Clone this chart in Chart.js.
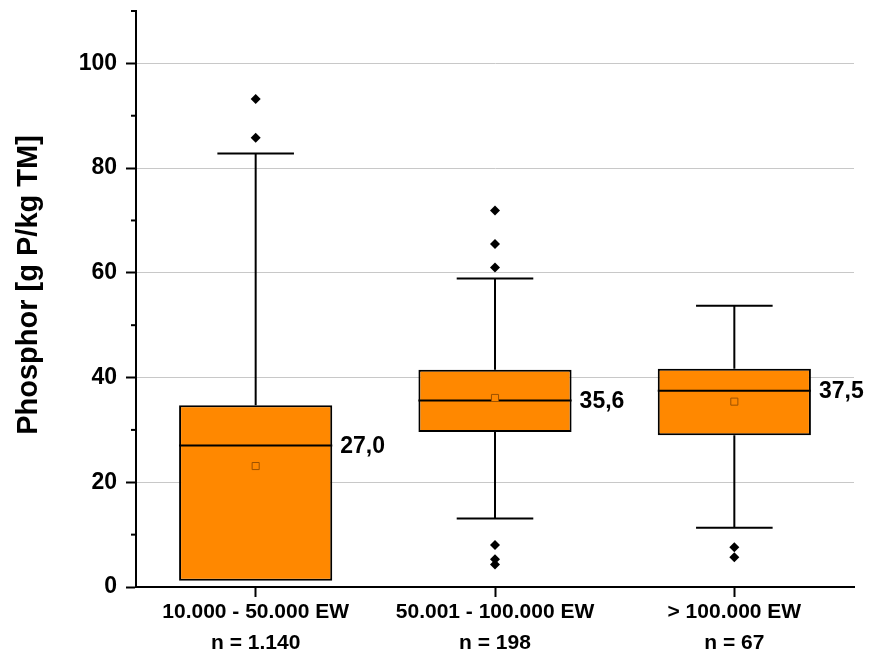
<!DOCTYPE html>
<html>
<head>
<meta charset="utf-8">
<script src="https://cdn.jsdelivr.net/npm/chart.js@4.4.1/dist/chart.umd.min.js"></script>
<style>
    html, body { margin: 0; padding: 0; background: #fff; }
    #wrap { width: 871px; height: 657px; position: relative; }
</style>
</head>
<body>
<div id="wrap"><canvas id="boxChart"></canvas></div>
<script>
// Kategorien (Ausbaugröße + Anzahl)
const categories = [
    ['10.000 - 50.000 EW', 'n = 1.140'],
    ['50.001 - 100.000 EW', 'n = 198'],
    ['> 100.000 EW', 'n = 67']
];

// Boxplot-Kennwerte, g P/kg TM
const q1 = [1.2, 29.6, 29.0];
const q3 = [34.7, 41.5, 41.7];
const medians = [27.0, 35.6, 37.5];
const means = [23.1, 36.1, 35.4];
const whiskerLow = [1.2, 13.1, 11.3];
const whiskerHigh = [82.8, 58.9, 53.7];
const outliers = [
    [93.2, 85.8],
    [71.9, 65.5, 61.0, 8.0, 5.3, 4.3],
    [7.6, 5.7]
];

// Achse
const yMin = 0;
const yMax = 110;
const yStep = 10;
const yLabelStep = 20;
const yTitle = 'Phosphor [g P/kg TM]';

const boxColor = '#ff8800';
const fontFamily = '"Liberation Sans", Arial, sans-serif';

// Whisker, Median, Nebenticks, Achsentitel und Medianbeschriftung
const boxPlugin = {
    id: 'boxExtras',
    beforeDatasetsDraw(chart) {
        const ctx = chart.ctx;
        const x = chart.scales.x;
        const y = chart.scales.y;
        const bars = chart.getDatasetMeta(0).data;
        ctx.save();
        ctx.strokeStyle = '#000';
        ctx.lineWidth = 2;
        categories.forEach((c, i) => {
            const cx = x.getPixelForValue(i);
            const half = bars[i].width / 4;
            // oberer Whisker
            ctx.beginPath();
            ctx.moveTo(cx, y.getPixelForValue(q3[i]));
            ctx.lineTo(cx, y.getPixelForValue(whiskerHigh[i]));
            ctx.moveTo(cx - half, y.getPixelForValue(whiskerHigh[i]));
            ctx.lineTo(cx + half, y.getPixelForValue(whiskerHigh[i]));
            ctx.stroke();
            // unterer Whisker
            if (whiskerLow[i] < q1[i]) {
                ctx.beginPath();
                ctx.moveTo(cx, y.getPixelForValue(q1[i]));
                ctx.lineTo(cx, y.getPixelForValue(whiskerLow[i]));
                ctx.moveTo(cx - half, y.getPixelForValue(whiskerLow[i]));
                ctx.lineTo(cx + half, y.getPixelForValue(whiskerLow[i]));
                ctx.stroke();
            }
        });
        // kleine Ticks an der y-Achse
        for (let v = yStep; v <= yMax; v += yLabelStep) {
            const py = y.getPixelForValue(v);
            ctx.beginPath();
            ctx.moveTo(chart.chartArea.left - 5, py);
            ctx.lineTo(chart.chartArea.left, py);
            ctx.stroke();
        }
        // Achsentitel
        ctx.translate(29, 285);
        ctx.rotate(-Math.PI / 2);
        ctx.fillStyle = '#000';
        ctx.font = 'bold 29px ' + fontFamily;
        ctx.textAlign = 'center';
        ctx.textBaseline = 'middle';
        ctx.fillText(yTitle, 0, 0);
        ctx.restore();
    },
    afterDatasetDraw(chart, args) {
        if (args.index !== 0) return;
        const ctx = chart.ctx;
        const y = chart.scales.y;
        const bars = chart.getDatasetMeta(0).data;
        ctx.save();
        ctx.strokeStyle = '#000';
        ctx.lineWidth = 2;
        ctx.fillStyle = '#000';
        ctx.font = 'bold 23px ' + fontFamily;
        ctx.textAlign = 'left';
        ctx.textBaseline = 'middle';
        medians.forEach((m, i) => {
            const b = bars[i];
            const py = y.getPixelForValue(m);
            ctx.beginPath();
            ctx.moveTo(b.x - b.width / 2, py);
            ctx.lineTo(b.x + b.width / 2, py);
            ctx.stroke();
            ctx.fillText(m.toFixed(1).replace('.', ','), b.x + b.width / 2 + 8, py + 1);
        });
        ctx.restore();
    }
};

const outlierPoints = [];
outliers.forEach((list, i) => {
    list.forEach(v => outlierPoints.push({ x: categories[i], y: v }));
});

const ctx = document.getElementById('boxChart').getContext('2d');
const chart = new Chart(ctx, {
    type: 'bar',
    data: {
        labels: categories,
        datasets: [
            {
                label: 'Box',
                data: q1.map((v, i) => [v, q3[i]]),
                backgroundColor: boxColor,
                borderColor: '#000',
                borderWidth: 2,
                borderSkipped: false,
                barPercentage: 0.64,
                categoryPercentage: 1,
                order: 3
            },
            {
                label: 'Mittelwert',
                type: 'line',
                data: means.map((v, i) => ({ x: categories[i], y: v })),
                showLine: false,
                pointStyle: 'rect',
                pointRadius: 5,
                pointBackgroundColor: boxColor,
                pointBorderColor: '#9c5200',
                pointBorderWidth: 1,
                order: 1
            },
            {
                label: 'Ausreißer',
                type: 'line',
                data: outlierPoints,
                showLine: false,
                pointStyle: 'rectRot',
                pointRadius: 5,
                pointBackgroundColor: '#000',
                pointBorderColor: '#000',
                pointBorderWidth: 0,
                order: 1
            }
        ]
    },
    options: {
        responsive: true,
        maintainAspectRatio: false,
        animation: false,
        events: [],
        layout: {
            padding: { top: 11, right: 17, left: 0, bottom: 0 }
        },
        plugins: {
            legend: { display: false },
            tooltip: { enabled: false }
        },
        scales: {
            x: {
                offset: true,
                border: { color: '#000', width: 2 },
                grid: {
                    offset: false,
                    drawOnChartArea: false,
                    drawTicks: true,
                    tickLength: 10,
                    tickWidth: 2,
                    tickColor: '#000'
                },
                ticks: {
                    color: '#000',
                    padding: 0,
                    maxRotation: 0,
                    autoSkip: false,
                    font: { family: fontFamily, size: 21, weight: 'bold', lineHeight: 1.47 }
                },
                afterFit(scale) {
                    scale.height = 70;
                    scale.paddingLeft = 0;
                    scale.paddingRight = 0;
                }
            },
            y: {
                min: yMin,
                max: yMax,
                border: { color: '#000', width: 2 },
                grid: {
                    color: c => (c.tick && c.tick.value % yLabelStep === 0 && c.tick.value > yMin && c.tick.value <= 100) ? '#c8c8c8' : 'rgba(0,0,0,0)',
                    lineWidth: 1,
                    tickLength: 10,
                    tickWidth: 2,
                    tickColor: c => (c.tick && c.tick.value % yLabelStep === 0 && c.tick.value <= 100) ? '#000' : 'rgba(0,0,0,0)'
                },
                ticks: {
                    stepSize: yStep,
                    color: '#000',
                    padding: 9,
                    autoSkip: false,
                    font: { family: fontFamily, size: 23, weight: 'bold' },
                    callback: v => (v % yLabelStep === 0 && v <= 100) ? v : ''
                },
                afterFit(scale) {
                    scale.width = 136;
                    scale.paddingTop = 0;
                    scale.paddingBottom = 0;
                }
            }
        }
    },
    plugins: [boxPlugin]
});
</script>
</body>
</html>
